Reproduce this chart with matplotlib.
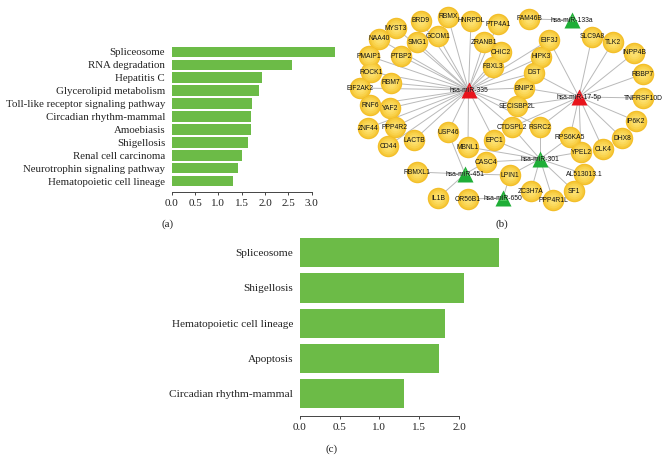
import numpy as np
import matplotlib
matplotlib.use("Agg")
import matplotlib.pyplot as plt

W, H = 669, 461
BAR_GREEN = "#6cbb47"
SERIF = "Liberation Serif"

# panel (a)
terms_a = ["Spliceosome", "RNA degradation", "Hepatitis C", "Glycerolipid metabolism",
           "Toll-like receptor signaling pathway", "Circadian rhythm-mammal", "Amoebiasis",
           "Shigellosis", "Renal cell carcinoma", "Neurotrophin signaling pathway",
           "Hematopoietic cell lineage"]
values_a = [3.49, 2.58, 1.93, 1.87, 1.73, 1.69, 1.69, 1.63, 1.50, 1.41, 1.32]
ticks_a = [0.0, 0.5, 1.0, 1.5, 2.0, 2.5, 3.0]

# panel (c)
terms_c = ["Spliceosome", "Shigellosis", "Hematopoietic cell lineage", "Apoptosis",
           "Circadian rhythm-mammal"]
values_c = [2.50, 2.06, 1.82, 1.75, 1.305]
ticks_c = [0.0, 0.5, 1.0, 1.5, 2.0]

# panel (b), layout in pixels
targets = {
    "FAM46B": (529, 19), "TLK2": (613, 42), "SLC9A8": (592, 37), "INPP4B": (634, 53),
    "RBBP7": (643, 74), "TNFRSF10D": (643, 98), "IP6K2": (636, 121), "BRD9": (421, 21),
    "RBMX": (448, 17), "HNRPDL": (471, 21), "PTP4A1": (498, 24), "MYST3": (396, 28),
    "NAA40": (379, 39), "SMG1": (417, 42), "GCOM1": (438, 36), "ZRANB1": (484, 42),
    "CHIC2": (501, 52), "EIF3J": (549, 40), "HIPK3": (541, 57), "FBXL3": (493, 67),
    "DST": (534, 73), "PMAIP1": (369, 56), "PTBP2": (401, 56), "ROCK1": (371, 72),
    "RBM7": (391, 83), "EIF2AK2": (360, 88), "BNIP2": (524, 88), "SECISBP2L": (517, 106),
    "RNF6": (370, 105), "YAF2": (390, 108), "ZNF44": (368, 128), "PPP4R2": (395, 127),
    "CD44": (388, 146), "LACTB": (414, 140), "USP46": (448, 132), "MBNL1": (468, 147),
    "EPC1": (494, 140), "CTDSPL2": (512, 127), "RSRC2": (540, 127), "RPS6KA5": (570, 137),
    "DHX8": (622, 138), "CLK4": (603, 149), "YPEL2": (581, 152), "AL513013.1": (584, 174),
    "CASC4": (486, 162), "LPIN1": (510, 175), "RBMXL1": (417, 172), "IL1B": (438, 198),
    "OR56B1": (468, 199), "ZC3H7A": (531, 191), "PPP4R1L": (553, 200), "SF1": (574, 191),
}
mirnas_up = {"hsa-miR-335": (468.5, 90), "hsa-miR-17-5p": (579, 97)}
mirnas_down = {"hsa-miR-133a": (572, 20), "hsa-miR-301": (540, 159),
               "hsa-miR-451": (465, 174), "hsa-miR-650": (503, 198)}
links = {
    "hsa-miR-133a": ["FAM46B"],
    "hsa-miR-335": ["BRD9", "RBMX", "HNRPDL", "PTP4A1", "MYST3", "NAA40", "SMG1", "GCOM1",
                    "ZRANB1", "CHIC2", "HIPK3", "EIF3J", "FBXL3", "DST", "PMAIP1", "PTBP2",
                    "ROCK1", "RBM7", "EIF2AK2", "BNIP2", "SECISBP2L", "RNF6", "YAF2", "ZNF44",
                    "PPP4R2", "CD44", "LACTB", "USP46", "MBNL1", "EPC1", "CTDSPL2", "RSRC2"],
    "hsa-miR-17-5p": ["EIF3J", "SLC9A8", "TLK2", "INPP4B", "RBBP7", "TNFRSF10D", "IP6K2",
                      "DHX8", "CLK4", "YPEL2", "RPS6KA5", "DST", "BNIP2", "SECISBP2L",
                      "CTDSPL2", "RSRC2"],
    "hsa-miR-301": ["CTDSPL2", "RSRC2", "RPS6KA5", "YPEL2", "AL513013.1", "SF1", "PPP4R1L",
                    "ZC3H7A", "LPIN1", "CASC4", "EPC1", "MBNL1"],
    "hsa-miR-451": ["USP46", "RBMXL1", "IL1B", "LPIN1", "CASC4"],
    "hsa-miR-650": ["OR56B1", "LPIN1"],
}


def bar_panel(left, right, top, bottom, first, step, terms, values, ticks, xmax, font):
    # all in pixels: axes box, centre of the first bar, bar spacing
    ax = fig.add_axes([left / W, 1 - bottom / H, (right - left) / W, (bottom - top) / H])
    y = np.arange(len(terms))
    ax.barh(y, values, height=0.83, color=BAR_GREEN)
    ax.set_yticks(y, terms, family=SERIF, fontsize=font, color="#222222")
    ax.set_xticks(ticks, [f"{v:.1f}" for v in ticks], family=SERIF, fontsize=8, color="#222222")
    ax.set_xlim(0, xmax)
    ax.set_ylim((bottom - first) / step, (top - first) / step)
    for s in ["top", "right", "left"]:
        ax.spines[s].set_visible(False)
    ax.spines["bottom"].set_bounds(ticks[0], ticks[-1])
    ax.spines["bottom"].set_linewidth(0.7)
    ax.spines["bottom"].set_color("#444444")
    ax.tick_params(axis="y", length=0, pad=4.8)
    ax.tick_params(axis="x", length=2, width=0.7, color="#444444", pad=3)
    return ax


fig = plt.figure(figsize=(W / 100, H / 100), dpi=100)

bar_panel(171.7, 339.7, 45.5, 192.3, 52, 12.9, terms_a, values_a, ticks_a, 3.6, 7.85)
bar_panel(299.7, 506.8, 236, 415.7, 252.65, 35.27, terms_c, values_c, ticks_c, 2.6, 8.1)

net = fig.add_axes([0, 0, 1, 1])
net.set_xlim(0, W)
net.set_ylim(H, 0)
net.axis("off")
net.patch.set_alpha(0)

all_mirnas = {**mirnas_up, **mirnas_down}
for mir, genes in links.items():
    mx, my = all_mirnas[mir]
    for g in genes:
        gx, gy = targets[g]
        net.plot([mx, gx], [my, gy], color="#b9b9b9", lw=0.7, zorder=1)

px = np.array(list(targets.values()), dtype=float)
pt = 72 / 100  # points per pixel
# soft shading on the gene nodes, outer ring first
shades = [(21.5, "#f3bf2a"), (19, "#f6c93a"), (16, "#f9d24b"), (12, "#fbd95c"), (8, "#fcdf6c")]
for i, (d, colour) in enumerate(shades):
    net.scatter(px[:, 0], px[:, 1], s=(d * pt) ** 2, c=colour, linewidths=0, zorder=2 + i * 0.1)
for name, (x, y) in targets.items():
    net.text(x, y, name, ha="center", va="center", fontsize=4.9, family="Liberation Sans",
             color="#111111", zorder=6)

for group, dark, light in [(mirnas_up, "#e8141c", "#f4454b"), (mirnas_down, "#1fae37", "#4fcb5e")]:
    tri = np.array(list(group.values()), dtype=float)
    net.scatter(tri[:, 0], tri[:, 1], marker="^", s=(16 * pt) ** 2, c=dark, linewidths=0, zorder=4)
    net.scatter(tri[:, 0], tri[:, 1] - 1.5, marker="^", s=(7 * pt) ** 2, c=light, linewidths=0, zorder=5)
    for name, (x, y) in group.items():
        net.text(x, y, name, ha="center", va="center", fontsize=4.9, family="Liberation Sans",
                 color="#111111", zorder=6)

for label, x, y in [("(a)", 168, 224), ("(b)", 502, 224), ("(c)", 332, 449)]:
    net.text(x, y, label, ha="center", va="center", family=SERIF, fontsize=8, color="#222222")

fig.savefig("out.png", dpi=100)
